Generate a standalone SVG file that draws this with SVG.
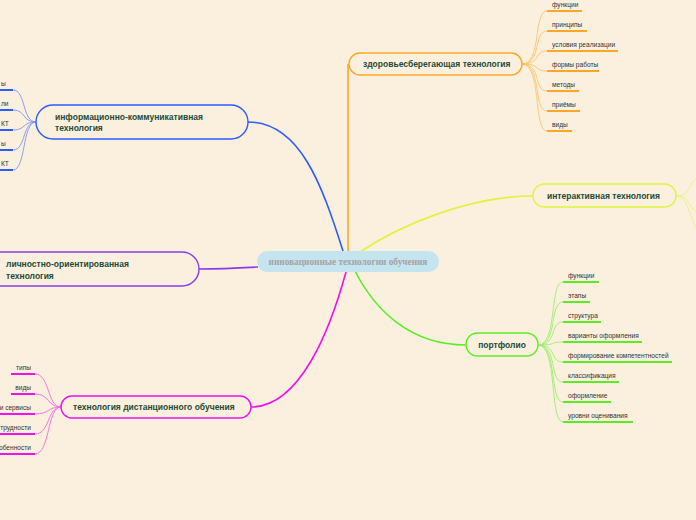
<svg xmlns="http://www.w3.org/2000/svg" width="696" height="520" viewBox="0 0 696 520">
<style>
.bg{fill:#FBF0DD}
.node{fill:#FBF0DD;stroke-width:1.4}
.nt{font-family:"Liberation Sans",Arial,sans-serif;font-weight:bold;font-size:8.5px;fill:#1E4A38}
.st{font-family:"Liberation Sans",Arial,sans-serif;font-size:6.6px;fill:#333}
.main{fill:none;stroke-width:1.6}
.sub{fill:none;stroke-width:0.9;opacity:0.6}
.ul{fill:none;stroke-width:2}
.or{stroke:#FFA626}.bl{stroke:#2B5CFF}.pu{stroke:#8A3BF0}.ye{stroke:#DDF53A}.gr{stroke:#5AEE22}.pk{stroke:#F010F0}
</style>
<rect class="bg" x="0" y="0" width="696" height="520"/>
<g id="connectors">
<path class="main or" d="M348,251 L348,64"/>
<path class="main bl" d="M343,251 C322,185 300,122 248,122"/>
<path class="main pu" d="M258,267 C240,268 220,269 199,269"/>
<path class="main ye" d="M360,252 C400,225 470,196 533,196"/>
<path class="main gr" d="M355,271 C375,310 410,345 466,345"/>
<path class="main pk" d="M346,272 C330,330 300,407 251,407"/>
<g class="sub or">
<path d="M522,64 C542,64 533,11 547,11"/><path d="M522,64 C542,64 533,31 547,31"/><path d="M522,64 C542,64 533,51 547,51"/><path d="M522,64 C542,64 533,71 547,71"/><path d="M522,64 C542,64 533,91 547,91"/><path d="M522,64 C542,64 533,111 547,111"/><path d="M522,64 C542,64 533,131 547,131"/>
</g>
<g class="sub bl">
<path d="M36,122 C22,122 26,90 13,90"/><path d="M36,122 C22,122 26,110 13,110"/><path d="M36,122 C22,122 26,130 13,130"/><path d="M36,122 C22,122 26,150 13,150"/><path d="M36,122 C22,122 26,170 13,170"/>
</g>
<g class="sub ye">
<path d="M676,196 C692,196 688,180 700,176"/><path d="M676,196 C692,196 688,210 700,214"/><path d="M676,196 C690,196 690,226 700,232"/>
</g>
<g class="sub gr">
<path d="M538,345 C558,345 549,282 563,282"/><path d="M538,345 C558,345 549,302 563,302"/><path d="M538,345 C558,345 549,322 563,322"/><path d="M538,345 C558,345 549,342 563,342"/><path d="M538,345 C558,345 549,362 563,362"/><path d="M538,345 C558,345 549,382 563,382"/><path d="M538,345 C558,345 549,402 563,402"/><path d="M538,345 C558,345 549,422 563,422"/>
</g>
<g class="sub pk">
<path d="M61,407 C47,407 50,374 35,374"/><path d="M61,407 C47,407 50,394 35,394"/><path d="M61,407 C47,407 50,414 35,414"/><path d="M61,407 C47,407 50,434 35,434"/><path d="M61,407 C47,407 50,454 35,454"/>
</g>
</g>
<g id="root">
<rect x="257" y="251" width="182" height="21" rx="10.5" fill="#C4E4EF"/>
<text x="348" y="265" text-anchor="middle" font-family="'Liberation Serif','Times New Roman',serif" font-weight="bold" font-size="9.3" fill="#A3A3A3">инновационные  технологии обучения</text>
</g>
<g id="health">
<rect class="node or" x="349" y="53" width="173" height="22" rx="11"/>
<text class="nt" x="363" y="67">здоровьесберегающая технология</text>
</g>
<g id="health-children">
<path class="ul or" d="M547,11H582M547,31H587M547,51H618M547,71H599M547,91H579M547,111H580M547,131H572"/>
<text class="st" x="552" y="6.5">функции</text>
<text class="st" x="552" y="26.5">принципы</text>
<text class="st" x="552" y="46.5">условия реализации</text>
<text class="st" x="552" y="66.5">формы работы</text>
<text class="st" x="552" y="86.5">методы</text>
<text class="st" x="552" y="106.5">приёмы</text>
<text class="st" x="552" y="126.5">виды</text>
</g>
<g id="ict">
<rect class="node bl" x="36" y="105" width="212" height="34" rx="17"/>
<text class="nt" x="55" y="120">информационно-коммуникативная</text>
<text class="nt" x="55" y="131">технология</text>
</g>
<g id="ict-children">
<path class="ul bl" d="M-2,90H13M-2,110H13M-2,130H13M-2,150H13M-2,170H13"/>
<text class="st" x="1" y="85.5">ы</text>
<text class="st" x="1" y="105.5">ли</text>
<text class="st" x="1" y="125.5">КТ</text>
<text class="st" x="1" y="145.5">ы</text>
<text class="st" x="1" y="165.5">КТ</text>
</g>
<g id="personal">
<rect class="node pu" x="-20" y="252" width="219" height="34" rx="17"/>
<text class="nt" x="6" y="267">личностно-ориентированная</text>
<text class="nt" x="6" y="279">технология</text>
</g>
<g id="interactive">
<rect class="node ye" x="533" y="184" width="143" height="23" rx="11.5"/>
<text class="nt" x="547" y="199">интерактивная технология</text>
</g>
<g id="portfolio">
<rect class="node gr" x="466" y="333" width="72" height="23" rx="11.5"/>
<text class="nt" x="502" y="348" text-anchor="middle" font-size="9">портфолио</text>
</g>
<g id="portfolio-children">
<path class="ul gr" d="M563,282H599M563,302H590M563,322H601M563,342H642M563,362H672M563,382H619M563,402H611M563,422H633"/>
<text class="st" x="568" y="277.5">функции</text>
<text class="st" x="568" y="297.5">этапы</text>
<text class="st" x="568" y="317.5">структура</text>
<text class="st" x="568" y="337.5">варианты оформления</text>
<text class="st" x="568" y="357.5">формирование компетентностей</text>
<text class="st" x="568" y="377.5">классификация</text>
<text class="st" x="568" y="397.5">оформление</text>
<text class="st" x="568" y="417.5">уровни оценивания</text>
</g>
<g id="distance">
<rect class="node pk" x="61" y="396" width="190" height="22" rx="11"/>
<text class="nt" x="73" y="410">технология дистанционного обучения</text>
</g>
<g id="distance-children">
<path class="ul pk" d="M11,374H35M11,394H35M-2,414H35M-2,434H35M-2,454H35"/>
<text class="st" x="31" y="369.5" text-anchor="end">типы</text>
<text class="st" x="31" y="389.5" text-anchor="end">виды</text>
<text class="st" x="31" y="409.5" text-anchor="end">и сервисы</text>
<text class="st" x="31" y="429.5" text-anchor="end">трудности</text>
<text class="st" x="31" y="449.5" text-anchor="end">обенности</text>
</g>
</svg>
